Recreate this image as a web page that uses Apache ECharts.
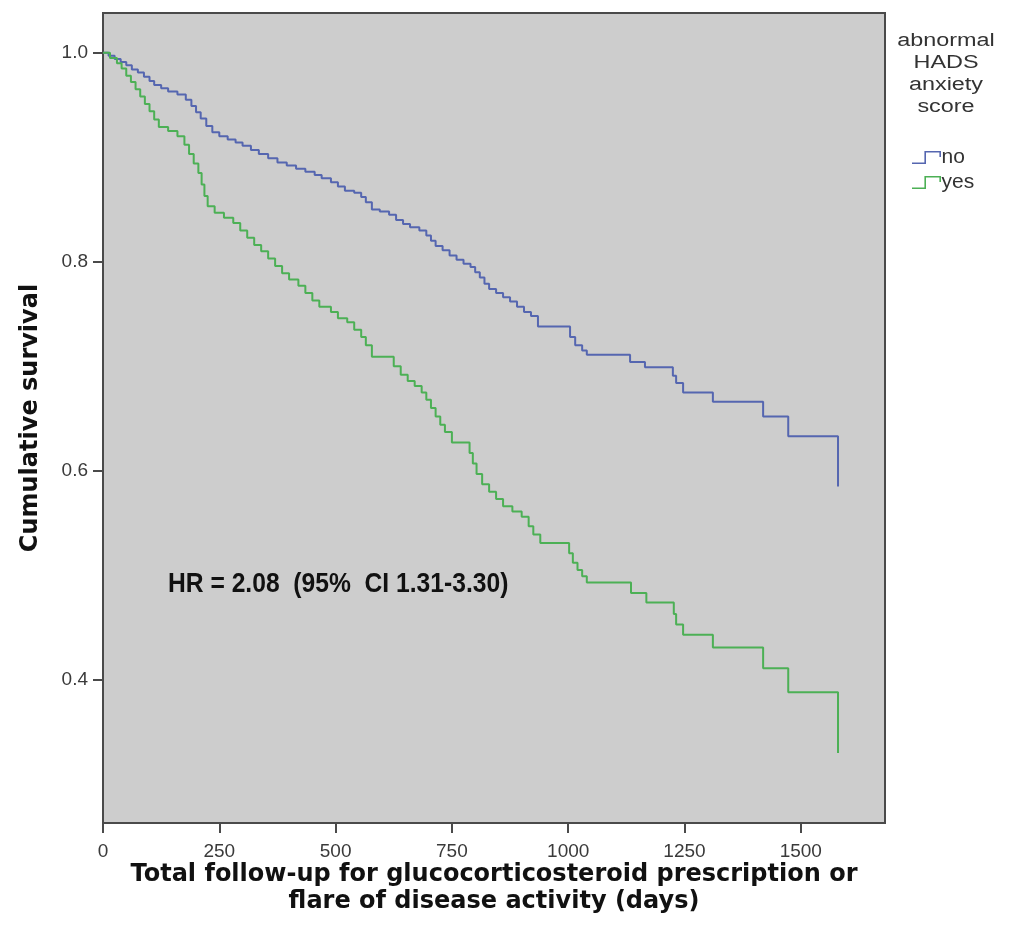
<!DOCTYPE html>
<html>
<head>
<meta charset="utf-8">
<title>Cumulative survival by HADS anxiety score</title>
<script src="https://cdn.jsdelivr.net/npm/echarts@6/dist/echarts.min.js"></script>
<style>
  html, body { margin: 0; padding: 0; background: #ffffff; }
  #chart { width: 1011px; height: 942px; }
</style>
</head>
<body>
<div id="chart"></div>
<script>
// Kaplan-Meier estimates: event times (days) and survival after each drop
const noTimes = [0, 12, 25, 38, 50, 62, 75, 88, 100, 110, 125, 140, 160, 178, 190, 200, 210, 222, 235, 250,
  268, 285, 300, 318, 335, 355, 375, 395, 415, 435, 455, 470, 490, 505, 520, 540, 555, 565, 578, 595,
  615, 630, 645, 660, 680, 695, 705, 715, 730, 745, 760, 775, 790, 800, 810, 820, 830, 845, 860, 875,
  890, 905, 920, 935, 1004, 1015, 1030, 1040, 1133, 1165, 1225, 1232, 1247, 1311, 1419, 1473, 1580];
const noSurv = [1.0, 0.997, 0.994, 0.991, 0.988, 0.984, 0.981, 0.977, 0.973, 0.969, 0.966, 0.963, 0.960, 0.955, 0.949, 0.943, 0.937, 0.930, 0.924, 0.920,
  0.917, 0.914, 0.911, 0.907, 0.903, 0.899, 0.895, 0.892, 0.889, 0.886, 0.883, 0.880, 0.876, 0.872, 0.868, 0.866, 0.862, 0.857, 0.850, 0.848,
  0.845, 0.840, 0.836, 0.833, 0.830, 0.825, 0.820, 0.815, 0.811, 0.806, 0.802, 0.798, 0.795, 0.790, 0.785, 0.779, 0.774, 0.770, 0.766, 0.762,
  0.757, 0.752, 0.748, 0.738, 0.728, 0.720, 0.715, 0.711, 0.704, 0.699, 0.691, 0.684, 0.675, 0.666, 0.652, 0.633, 0.585];

const yesTimes = [0, 15, 30, 40, 50, 60, 70, 80, 90, 100, 110, 120, 140, 160, 175, 185, 195, 205, 212, 218,
  225, 240, 260, 280, 295, 310, 325, 340, 355, 370, 385, 400, 420, 435, 450, 465, 490, 505, 525, 540,
  555, 565, 578, 625, 640, 655, 670, 685, 695, 705, 715, 725, 735, 750, 788, 795, 803, 815, 830, 845,
  860, 880, 900, 915, 925, 940, 1002, 1010, 1020, 1030, 1040, 1135, 1168, 1227, 1232, 1247, 1311, 1419, 1473, 1580];
const yesSurv = [1.0, 0.995, 0.990, 0.985, 0.978, 0.972, 0.965, 0.958, 0.951, 0.944, 0.936, 0.929, 0.925, 0.920, 0.912, 0.903, 0.894, 0.885, 0.874, 0.863,
  0.853, 0.847, 0.842, 0.837, 0.830, 0.823, 0.816, 0.810, 0.803, 0.796, 0.789, 0.783, 0.777, 0.770, 0.763, 0.757, 0.752, 0.746, 0.742, 0.735,
  0.728, 0.720, 0.709, 0.700, 0.692, 0.686, 0.681, 0.675, 0.668, 0.660, 0.652, 0.644, 0.637, 0.627, 0.617, 0.607, 0.597, 0.587, 0.580, 0.573,
  0.566, 0.561, 0.556, 0.547, 0.539, 0.531, 0.521, 0.512, 0.505, 0.499, 0.493, 0.483, 0.474, 0.463, 0.453, 0.443, 0.431, 0.411, 0.388, 0.330];

const xTicks = [0, 250, 500, 750, 1000, 1250, 1500];
const yTicks = [0.4, 0.6, 0.8, 1.0];

const groupNames = ['no', 'yes'];
const legendTitle = ['abnormal', 'HADS', 'anxiety', 'score'];
const hrText = 'HR = 2.08  (95%  CI 1.31-3.30)';
const xTitle = 'Total follow-up for glucocorticosteroid prescription or\nflare of disease activity (days)';
const yTitle = 'Cumulative survival';

const pair = (ts, ss) => ts.map((t, i) => [t, ss[i]]);

// step-shaped legend glyph drawn as a thin filled outline
const stepIcon = 'path://M0,11.4 L12.4,11.4 L12.4,0 L29,0 L29,6 L27.4,6 L27.4,1.6 L14,1.6 L14,13 L0,13 Z';

const chart = echarts.init(document.getElementById('chart'), null, { renderer: 'canvas' });

const tickFont = { fontFamily: 'Liberation Sans, Arial, sans-serif', fontSize: 19, color: '#3a3a3a' };
const titleFont = { fontFamily: 'DejaVu Sans, Verdana, sans-serif', fontWeight: 'bold', fontSize: 24, color: '#111' };

chart.setOption({
  animation: false,
  backgroundColor: '#ffffff',
  grid: {
    left: 103, top: 13, right: 126, bottom: 119,
    show: true, backgroundColor: '#cdcdcd', borderColor: '#4a4a4a', borderWidth: 2
  },
  legend: {
    data: groupNames,
    orient: 'vertical',
    left: 907, top: 142,
    itemWidth: 30, itemHeight: 13, itemGap: 4,
    icon: stepIcon,
    textStyle: { fontFamily: 'Liberation Sans, Arial, sans-serif', fontSize: 21, color: '#333', padding: [0, 0, 0, -5] }
  },
  xAxis: {
    type: 'value', min: 0, max: 1681,
    name: xTitle, nameLocation: 'middle', nameGap: 38, nameMoveOverlap: false,
    nameTextStyle: { ...titleFont, lineHeight: 27 },
    axisLine: { show: true, lineStyle: { color: '#4a4a4a', width: 2 } },
    axisTick: { show: true, length: 10, lineStyle: { color: '#4a4a4a', width: 2 }, customValues: xTicks },
    axisLabel: { ...tickFont, margin: 19, customValues: xTicks, formatter: v => String(v) },
    splitLine: { show: false }
  },
  yAxis: {
    type: 'value', min: 0.263, max: 1.038,
    name: yTitle, nameLocation: 'middle', nameGap: 60, nameRotate: 90, nameMoveOverlap: false,
    nameTextStyle: titleFont,
    axisLine: { show: true, lineStyle: { color: '#4a4a4a', width: 2 } },
    axisTick: { show: true, length: 10, lineStyle: { color: '#4a4a4a', width: 2 }, customValues: yTicks },
    axisLabel: { ...tickFont, margin: 15, customValues: yTicks, formatter: v => v.toFixed(1) },
    splitLine: { show: false }
  },
  graphic: [
    {
      type: 'text', x: 946, y: 30, scaleX: 1.3,
      style: {
        text: legendTitle.join('\n'), textAlign: 'center', lineHeight: 22,
        font: '18px "Liberation Sans", Arial, sans-serif', fill: '#333'
      }
    },
    {
      type: 'text', x: 168, y: 570, scaleX: 0.88,
      style: {
        text: hrText,
        font: 'bold 28px "Liberation Sans", Arial, sans-serif', fill: '#111'
      }
    }
  ],
  series: [
    {
      name: groupNames[0], type: 'line', step: 'end', showSymbol: false,
      data: pair(noTimes, noSurv),
      lineStyle: { color: '#5566b0', width: 2 }, itemStyle: { color: '#5566b0' }
    },
    {
      name: groupNames[1], type: 'line', step: 'end', showSymbol: false,
      data: pair(yesTimes, yesSurv),
      lineStyle: { color: '#4cb055', width: 2 }, itemStyle: { color: '#4cb055' }
    }
  ]
});
</script>
</body>
</html>
